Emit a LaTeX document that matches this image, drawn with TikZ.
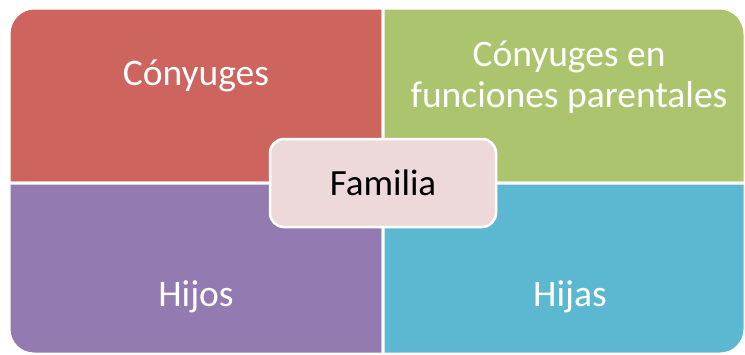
\documentclass[tikz,border=0pt]{standalone}
\usepackage{fontspec}
\setmainfont{Carlito}
\definecolor{cred}{RGB}{205,101,94}
\definecolor{cgreen}{RGB}{172,196,110}
\definecolor{cpurple}{RGB}{147,122,176}
\definecolor{cblue}{RGB}{92,184,209}
\definecolor{cpink}{RGB}{238,217,218}
\tikzset{
  quad/.style={draw=white, line width=3pt},
  qlabel/.style={text=white, font=\fontsize{37.5}{41}\selectfont, align=center},
  center/.style={draw=white, line width=2.5pt, fill=cpink, rounded corners=14pt,
    minimum width=226pt, minimum height=88pt, text=black, font=\fontsize{37}{40}\selectfont}
}
\begin{document}
\begin{tikzpicture}[x=1pt,y=-1pt]
\useasboundingbox (0,0) rectangle (745,354);
\fill[white] (0,0) rectangle (745,354);
% red (top-left)
\draw[quad, fill=cred] (9,183) -- (9,34) .. controls (9,20) and (20,8) .. (34,8) -- (383,8) -- (383,183) -- cycle;
% green (top-right)
\draw[quad, fill=cgreen] (383,183) -- (383,8) -- (720,8) .. controls (734,8) and (745,20) .. (745,34) -- (745,183) -- cycle;
% purple (bottom-left)
\draw[quad, fill=cpurple] (9,183) -- (383,183) -- (383,354) -- (34,354) .. controls (20,354) and (9,343) .. (9,329) -- cycle;
% blue (bottom-right)
\draw[quad, fill=cblue] (383,183) -- (745,183) -- (745,329) .. controls (745,343) and (734,354) .. (720,354) -- (383,354) -- cycle;
\node[qlabel] (conyuges) at (196,76) {Cónyuges};
\node[qlabel] (parentales) at (569,77) {Cónyuges en\\funciones parentales};
\node[qlabel] (hijos) at (196,297) {Hijos};
\node[qlabel] (hijas) at (570,297) {Hijas};
\node[center] (familia) at (383,183) {Familia};
\end{tikzpicture}
\end{document}
